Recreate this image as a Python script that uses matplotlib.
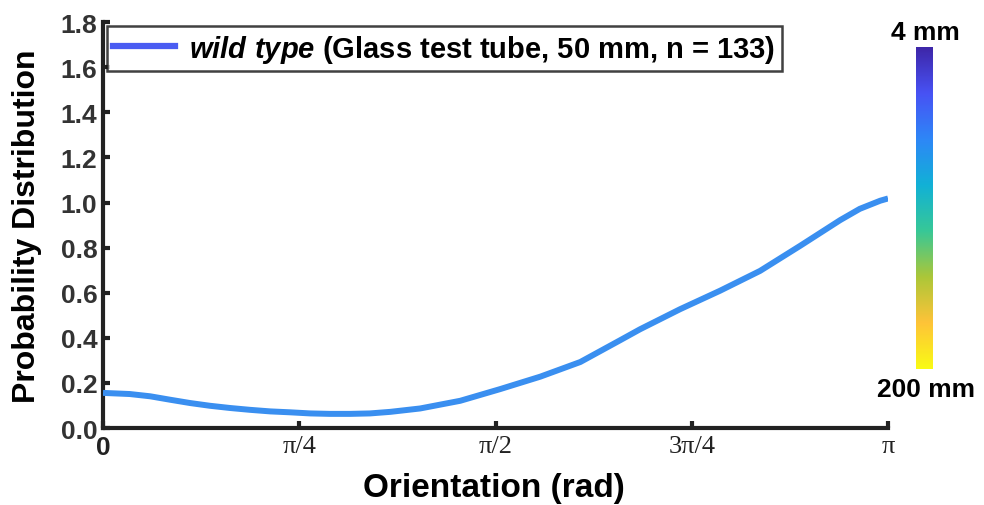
import numpy as np
import matplotlib.pyplot as plt
from matplotlib.colors import LinearSegmentedColormap

plt.rcParams['font.family'] = ['Liberation Sans', 'DejaVu Sans']
plt.rcParams['mathtext.fontset'] = 'custom'
plt.rcParams['mathtext.it'] = 'Liberation Sans:bold:italic'
plt.rcParams['mathtext.rm'] = 'Liberation Sans:bold'

# orientation (in units of pi) and probability density
orient_pi = [0.000, 0.034, 0.060, 0.085, 0.111, 0.136, 0.162, 0.187, 0.213, 0.238,
             0.264, 0.289, 0.315, 0.340, 0.366, 0.404, 0.455, 0.506, 0.557, 0.608,
             0.659, 0.684, 0.735, 0.786, 0.837, 0.888, 0.939, 0.964, 0.990, 1.000]
density = [0.156, 0.151, 0.141, 0.126, 0.111, 0.099, 0.089, 0.081, 0.074, 0.070,
           0.065, 0.063, 0.063, 0.065, 0.072, 0.087, 0.121, 0.173, 0.228, 0.293,
           0.390, 0.438, 0.527, 0.609, 0.697, 0.808, 0.922, 0.972, 1.008, 1.018]
x_ticks_pi = [0, 0.25, 0.5, 0.75, 1.0]
x_tick_labels = ['0', 'π/4', 'π/2', '3π/4', 'π']
y_ticks = [0.0, 0.2, 0.4, 0.6, 0.8, 1.0, 1.2, 1.4, 1.6, 1.8]
label = r'$\it{wild\ type}$ (Glass test tube, 50 mm, n = 133)'
size_labels = ['4 mm', '200 mm']

dark = '#222222'
fig = plt.figure(figsize=(9.84, 5.06), dpi=100)
ax = fig.add_axes([0.1047, 0.152, 0.7978, 0.8024])

x = np.array(orient_pi) * np.pi
ax.plot(x, density, color='#3a8ff0', lw=4.3, solid_capstyle='butt',
        solid_joinstyle='round', zorder=3)

ax.set_xlim(0, np.pi)
ax.set_ylim(0, 1.8)
for s in ['top', 'right']:
    ax.spines[s].set_visible(False)
for s in ['left', 'bottom']:
    ax.spines[s].set_linewidth(3)
    ax.spines[s].set_color(dark)
    ax.spines[s].set_capstyle('projecting')

ax.set_yticks(y_ticks)
ax.set_yticklabels([f'{v:.1f}' for v in y_ticks])
ax.set_xticks(np.array(x_ticks_pi) * np.pi)
ax.set_xticklabels(x_tick_labels)
ax.tick_params(direction='in', length=5, width=3, color=dark)
ax.tick_params(axis='y', labelsize=19, labelcolor='#333333', pad=4)
ax.tick_params(axis='x', labelsize=19, labelcolor='#222222', pad=5)
for t in ax.get_yticklabels():
    t.set_fontweight('bold')
for i, t in enumerate(ax.get_xticklabels()):
    if i == 0:
        t.set_fontweight('bold')
    else:
        t.set_family('Liberation Serif')

ax.set_ylabel('Probability Distribution', fontsize=23, fontweight='bold')
ax.yaxis.set_label_coords(-0.078, 0.5)
ax.set_xlabel('Orientation (rad)', fontsize=24, fontweight='bold')
ax.xaxis.set_label_coords(0.498, -0.108)

# legend entry drawn with the plot's reference colour
h, = ax.plot([], [], color='#4a5cf2', lw=4.5)
leg = ax.legend([h], [label], loc='upper left', bbox_to_anchor=(0.005, 0.99),
                prop={'weight': 'bold', 'size': 21}, frameon=True, fancybox=False,
                handlelength=2.1, handletextpad=0.5, borderpad=0.22,
                borderaxespad=0)
leg.get_frame().set_edgecolor('#111111')
leg.get_frame().set_linewidth(1.8)

# tube-diameter colour scale
parula = LinearSegmentedColormap.from_list('parula', [
    (0.2422, 0.1504, 0.6603), (0.2810, 0.3228, 0.9579), (0.1786, 0.5289, 0.9682),
    (0.0689, 0.6948, 0.8394), (0.2161, 0.7843, 0.5923), (0.6720, 0.7793, 0.2227),
    (0.9970, 0.7659, 0.2199), (0.9769, 0.9839, 0.0805)])
cax = fig.add_axes([0.931, 0.2688, 0.0163, 0.636])
cax.imshow(np.linspace(0, 1, 256).reshape(-1, 1), cmap=parula, aspect='auto')
cax.axis('off')
fig.text(0.940, 0.935, size_labels[0], ha='center', va='center', fontsize=19, fontweight='bold')
fig.text(0.941, 0.229, size_labels[1], ha='center', va='center', fontsize=19, fontweight='bold')

fig.savefig('out.png', dpi=100)
